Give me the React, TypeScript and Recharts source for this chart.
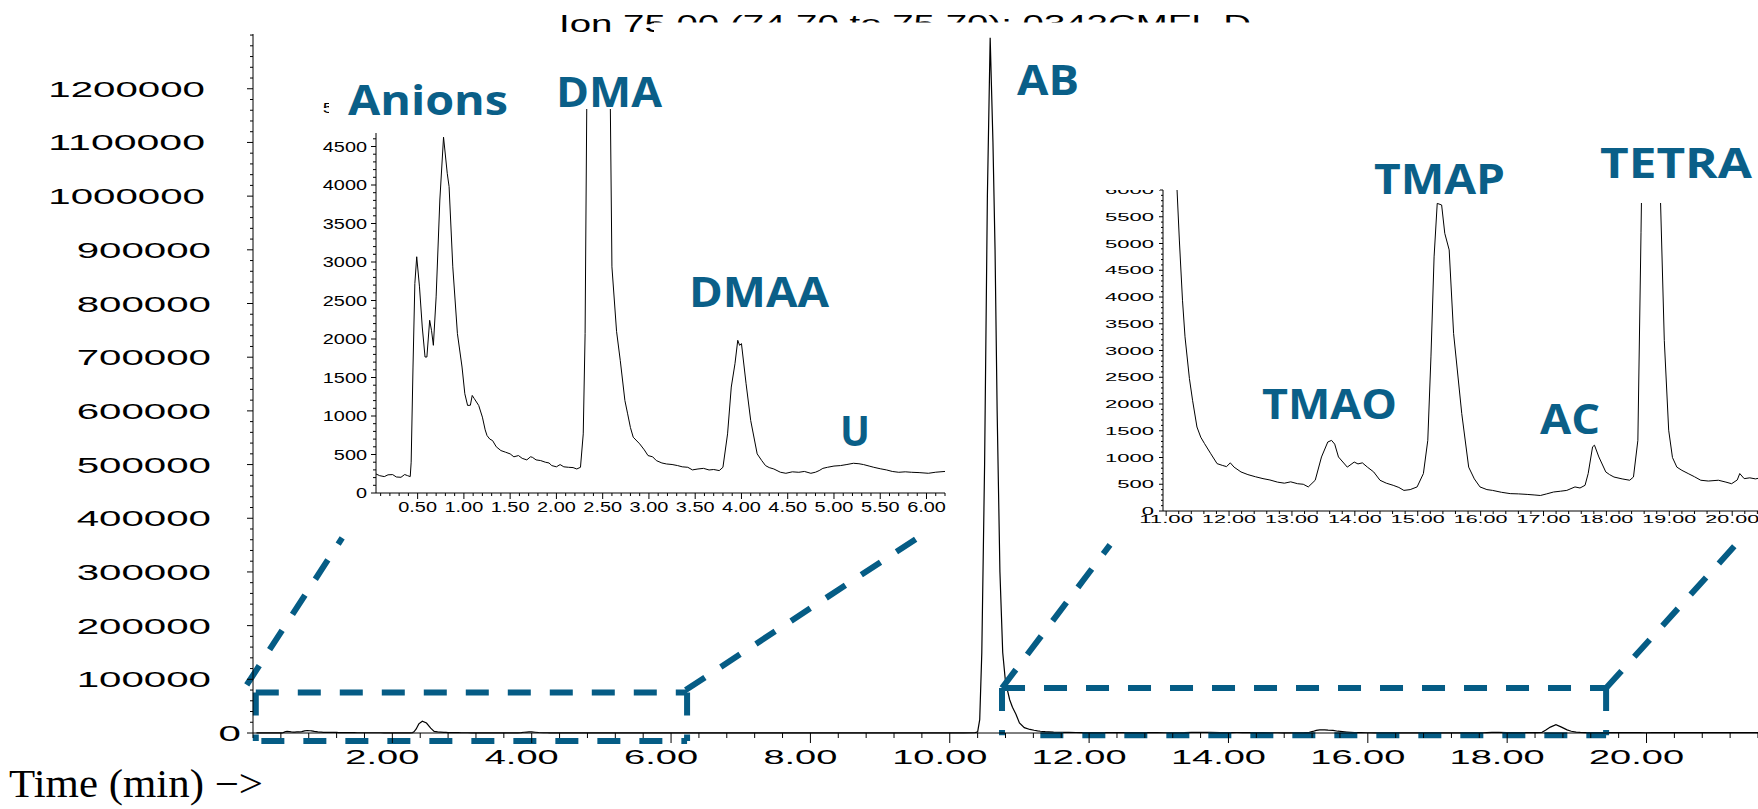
import { LineChart, Line, XAxis, YAxis, ReferenceLine } from 'recharts'

// [retention time (min), abundance]
const earlyTrace: [number, number][] = [
  [0.05, 247], [0.09, 225], [0.14, 213], [0.18, 236], [0.23, 239], [0.27, 208], [0.32, 204], [0.36, 240],
  [0.39, 226], [0.42, 213], [0.43, 400], [0.45, 1636], [0.47, 2720], [0.49, 3068], [0.52, 2677], [0.55, 2156],
  [0.58, 1766], [0.6, 1766], [0.63, 2243], [0.65, 2113], [0.67, 1918], [0.7, 2547], [0.74, 3805], [0.78, 4621],
  [0.82, 4152], [0.84, 3979], [0.88, 2937], [0.93, 2070], [0.98, 1636], [1.01, 1289], [1.04, 1137], [1.07, 1140],
  [1.09, 1267], [1.11, 1230], [1.16, 1137], [1.2, 985], [1.23, 820], [1.25, 746], [1.28, 700], [1.31, 681],
  [1.35, 600], [1.4, 551], [1.45, 530], [1.5, 508], [1.54, 470], [1.59, 486], [1.63, 450], [1.68, 430],
  [1.72, 470], [1.74, 464], [1.78, 430], [1.83, 421], [1.88, 400], [1.92, 390], [1.95, 356], [2.0, 340],
  [2.04, 369], [2.08, 340], [2.13, 334], [2.18, 330], [2.22, 312], [2.26, 334], [2.29, 768], [2.31, 2070],
  [2.34, 7000], [2.38, 17000], [2.43, 22000], [2.49, 18500], [2.55, 9000], [2.6, 2937], [2.65, 2100], [2.69, 1722],
  [2.74, 1202], [2.77, 1028], [2.8, 850], [2.83, 725], [2.9, 638], [2.95, 560], [2.99, 486], [3.04, 470],
  [3.08, 421], [3.14, 390], [3.19, 377], [3.25, 370], [3.31, 356], [3.36, 340], [3.42, 334], [3.47, 300],
  [3.53, 312], [3.59, 320], [3.65, 299], [3.7, 305], [3.76, 291], [3.8, 334], [3.85, 768], [3.89, 1376],
  [3.93, 1679], [3.96, 1983], [3.98, 1918], [4.0, 1940], [4.05, 1419], [4.1, 941], [4.17, 508], [4.22, 420],
  [4.26, 356], [4.3, 330], [4.35, 312], [4.42, 270], [4.48, 256], [4.55, 275], [4.62, 269], [4.68, 280],
  [4.75, 256], [4.8, 270], [4.84, 291], [4.88, 320], [4.93, 334], [5.0, 350], [5.07, 356], [5.14, 370],
  [5.21, 386], [5.27, 380], [5.32, 369], [5.38, 350], [5.43, 334], [5.5, 315], [5.57, 299], [5.63, 280],
  [5.7, 269], [5.77, 275], [5.84, 269], [5.92, 265], [6.02, 256], [6.1, 270], [6.22, 282],
]

const middleTrace: [number, number][] = [
  [6.3, 270], [6.8, 260], [7.4, 280], [8.0, 270], [8.6, 290], [9.2, 280], [9.8, 310], [10.2, 350],
  [10.36, 500], [10.4, 2000], [10.43, 25000], [10.46, 150000], [10.5, 500000], [10.54, 1000000],
  [10.58, 1295000], [10.62, 1100000], [10.65, 900000], [10.68, 600000], [10.72, 300000], [10.76, 150000],
  [10.8, 95000], [10.86, 62000], [10.9, 48000],
]

const lateTrace: [number, number][] = [
  [10.95, 35000], [11.0, 18600], [11.07, 10000], [11.15, 6600], [11.21, 5065], [11.26, 3940], [11.3, 3256],
  [11.37, 2476], [11.42, 2070], [11.49, 1570], [11.55, 1380], [11.61, 1260], [11.71, 1070], [11.81, 885],
  [11.9, 850], [11.96, 830], [12.02, 900], [12.08, 820], [12.19, 730], [12.3, 680], [12.42, 640], [12.54, 605],
  [12.65, 580], [12.77, 540], [12.88, 520], [12.98, 545], [13.09, 510], [13.18, 500], [13.26, 450], [13.37, 575],
  [13.47, 1010], [13.57, 1290], [13.63, 1320], [13.68, 1250], [13.74, 1010], [13.88, 820], [13.99, 915],
  [14.05, 880], [14.12, 900], [14.2, 820], [14.3, 730], [14.4, 575], [14.5, 520], [14.61, 480], [14.7, 440],
  [14.78, 385], [14.88, 400], [14.99, 450], [15.09, 700], [15.16, 1320], [15.21, 2880], [15.26, 4750],
  [15.31, 5750], [15.38, 5720], [15.43, 5190], [15.5, 4880], [15.57, 3320], [15.7, 1820], [15.81, 820],
  [15.9, 600], [15.99, 450], [16.1, 400], [16.19, 385], [16.33, 350], [16.47, 325], [16.6, 320], [16.74, 310],
  [16.85, 300], [16.95, 290], [17.05, 320], [17.16, 355], [17.27, 370], [17.37, 385], [17.5, 450], [17.58, 430],
  [17.66, 480], [17.71, 700], [17.78, 1200], [17.81, 1230], [17.88, 1010], [17.99, 730], [18.05, 680],
  [18.12, 635], [18.25, 600], [18.37, 575], [18.43, 635], [18.5, 1320], [18.55, 5200], [18.62, 11000],
  [18.7, 15500], [18.78, 11000], [18.86, 5800], [18.92, 3190], [18.99, 1510], [19.05, 1000], [19.12, 820],
  [19.2, 760], [19.3, 700], [19.4, 640], [19.5, 575], [19.62, 560], [19.78, 575], [19.9, 540], [19.99, 510],
  [20.08, 580], [20.12, 700], [20.19, 605], [20.28, 620], [20.37, 600], [20.41, 610],
]

const tailTrace: [number, number][] = [[20.6, 590], [21.0, 570], [21.6, 560]]

const mainTimeLabels = [2, 4, 6, 8, 10, 12, 14, 16, 18, 20]
const mainAbundanceLabels = [0, 100000, 200000, 300000, 400000, 500000, 600000, 700000, 800000, 900000, 1000000, 1100000, 1200000]
const earlyTimeLabels = [0.5, 1, 1.5, 2, 2.5, 3, 3.5, 4, 4.5, 5, 5.5, 6]
const earlyAbundanceLabels = [0, 500, 1000, 1500, 2000, 2500, 3000, 3500, 4000, 4500, 5000]
const lateTimeLabels = [11, 12, 13, 14, 15, 16, 17, 18, 19, 20]
const lateAbundanceLabels = [0, 500, 1000, 1500, 2000, 2500, 3000, 3500, 4000, 4500, 5000, 5500, 6000]

const peakNames = ['Anions', 'DMA', 'AB', 'DMAA', 'U', 'TMAO', 'TMAP', 'AC', 'TETRA']

const title = 'Ion 75.00 (74.70 to 75.70): 0342CMFL.D'

const W = 1758
const H = 809
const TEAL = '#055c85'
const LABEL = '#0a5f88'
const SANS = "'Liberation Sans', Arial, sans-serif"

const toRows = (trace: [number, number][]) => trace.map(([t, v]) => ({ t, v }))
const overviewData = toRows([...earlyTrace, ...middleTrace, ...lateTrace, ...tailTrace])
const earlyData = toRows(earlyTrace)
const lateData = toRows(lateTrace)

const steps = (from: number, to: number, step: number) => {
  const n = Math.round((to - from) / step)
  return Array.from({ length: n + 1 }, (_, i) => +(from + i * step).toFixed(3))
}

// width of a stretched Arial number string
const numWidth = (s: string, size: number, stretch: number) => {
  let em = 0
  for (const c of s) em += c === '.' ? 0.278 : 0.556
  return em * size * stretch
}

const isIn = (list: number[], v: number) => list.some(l => Math.abs(l - v) < 1e-6)

interface TickOpts {
  labels: number[]
  digits: number
  size: number
  stretch: number
  major: number
  minor: number
  baseline: number
  dx?: number
}

function bottomTick(o: TickOpts) {
  return (props: any) => {
    const { x, y, payload } = props
    const v = payload.value as number
    const major = isIn(o.labels, v)
    const text = v.toFixed(o.digits)
    const w = numWidth(text, o.size, o.stretch)
    return (
      <g>
        <line x1={x} x2={x} y1={y} y2={y + (major ? o.major : o.minor)} stroke="#000" strokeWidth={1} />
        {major && (
          <text x={x + (o.dx ?? 0) - w / 2} y={y + o.baseline} fontSize={o.size} fontFamily={SANS}
            textLength={w} lengthAdjust="spacingAndGlyphs" fill="#000">{text}</text>
        )}
      </g>
    )
  }
}

function leftTick(o: TickOpts & { gap: (label: string) => number }) {
  return (props: any) => {
    const { x, y, payload } = props
    const v = payload.value as number
    const major = isIn(o.labels, v)
    const text = String(v)
    const w = numWidth(text, o.size, o.stretch)
    return (
      <g>
        <line x1={x} x2={x - (major ? o.major : o.minor)} y1={y} y2={y} stroke="#000" strokeWidth={1} />
        {major && (
          <text x={x - o.gap(text) - w} y={y + o.baseline} fontSize={o.size} fontFamily={SANS}
            textLength={w} lengthAdjust="spacingAndGlyphs" fill="#000">{text}</text>
        )}
      </g>
    )
  }
}

const dashLeft = { stroke: TEAL, strokeWidth: 6, strokeDasharray: '23 19', ifOverflow: 'visible' as const }

const peakLayout: Record<string, { x: number; y: number; w: number }> = {
  Anions: { x: 348, y: 115, w: 160 },
  DMA: { x: 556, y: 107, w: 106 },
  AB: { x: 1017, y: 95, w: 62 },
  DMAA: { x: 689, y: 307, w: 140 },
  U: { x: 840, y: 446, w: 30 },
  TMAO: { x: 1262, y: 419, w: 135 },
  TMAP: { x: 1374, y: 194, w: 131 },
  AC: { x: 1540, y: 434, w: 60 },
  TETRA: { x: 1600, y: 178, w: 152 },
}

export default function App() {
  return (
    <div style={{ position: 'absolute', left: 0, top: 0, width: W, height: H, background: '#fff', overflow: 'hidden' }}>
      <svg width={W} height={H} style={{ position: 'absolute', left: 0, top: 0 }}>
        <text x={559} y={32} fontSize={24} fontFamily={SANS} textLength={692} lengthAdjust="spacingAndGlyphs">{title}</text>
        <rect x={654} y={22.5} width={620} height={20} fill="#fff" />
      </svg>

      <div style={{ position: 'absolute', left: 0, top: 0 }}>
        <LineChart width={W} height={H} data={overviewData} margin={{ top: 34, right: 0, bottom: 0, left: 0 }}>
          <XAxis dataKey="t" type="number" domain={[0, 21.6]} allowDataOverflow ticks={steps(0, 21.6, 0.4)}
            interval={0} height={76} tickSize={0} tickMargin={0} tickLine={false} axisLine={{ stroke: '#000' }}
            tick={bottomTick({ labels: mainTimeLabels, digits: 2, size: 20, stretch: 1.9, major: 10, minor: 5, baseline: 31, dx: -10 })} />
          <YAxis type="number" domain={[0, 1302000]} ticks={steps(0, 1300000, 20000)} interval={0} width={253}
            tickSize={0} tickMargin={0} tickLine={false} axisLine={{ stroke: '#000' }}
            tick={leftTick({ labels: mainAbundanceLabels, digits: 0, size: 22, stretch: 1.83, major: 6, minor: 3, baseline: 8,
              gap: s => (s.length === 1 ? 12 : s.length === 6 ? 42 : 48) })} />
          <Line dataKey="v" stroke="#000" strokeWidth={1.2} dot={false} isAnimationActive={false} />
          {/* zoom boxes and connectors */}
          <ReferenceLine segment={[{ x: 0.04, y: 75500 }, { x: 6.23, y: 75500 }]} {...dashLeft} />
          <ReferenceLine segment={[{ x: 0.12, y: -14900 }, { x: 6.23, y: -14900 }]} {...dashLeft} />
          <ReferenceLine segment={[{ x: 0.04, y: 75500 }, { x: 0.04, y: -14900 }]} {...dashLeft} />
          <ReferenceLine segment={[{ x: 6.23, y: 75500 }, { x: 6.23, y: -14900 }]} {...dashLeft} />
          <ReferenceLine segment={[{ x: -0.09, y: 89500 }, { x: 1.28, y: 363500 }]} {...dashLeft} />
          <ReferenceLine segment={[{ x: 6.21, y: 80100 }, { x: 9.54, y: 363500 }]} {...dashLeft} />
          <ReferenceLine segment={[{ x: 10.75, y: 83900 }, { x: 19.42, y: 83900 }]} {...dashLeft} />
          <ReferenceLine segment={[{ x: 11.3, y: -4000 }, { x: 19.42, y: -4000 }]} {...dashLeft} />
          <ReferenceLine segment={[{ x: 10.75, y: 83900 }, { x: 10.75, y: -4000 }]} {...dashLeft} />
          <ReferenceLine segment={[{ x: 19.42, y: 83900 }, { x: 19.42, y: -4000 }]} {...dashLeft} />
          <ReferenceLine segment={[{ x: 10.75, y: 83900 }, { x: 12.3, y: 350400 }]} {...dashLeft} />
          <ReferenceLine segment={[{ x: 19.42, y: 83900 }, { x: 21.37, y: 363500 }]} {...dashLeft} />
        </LineChart>
      </div>

      <div style={{ position: 'absolute', left: 300, top: 95, width: 650, height: 427, background: '#fff' }}>
        <LineChart width={650} height={427} data={earlyData} margin={{ top: 13, right: 5, bottom: 0, left: 0 }}>
          <XAxis dataKey="t" type="number" domain={[0.05, 6.2]} allowDataOverflow ticks={steps(0.1, 6.2, 0.1)}
            interval={0} height={29} tickSize={0} tickMargin={0} tickLine={false} axisLine={{ stroke: '#000' }}
            tick={bottomTick({ labels: earlyTimeLabels, digits: 2, size: 14, stretch: 1.42, major: 6, minor: 3, baseline: 19 })} />
          <YAxis type="number" domain={[0, 5000]} allowDataOverflow ticks={steps(0, 5000, 100)} interval={0} width={76}
            tickSize={0} tickMargin={0} tickLine={false} axisLine={{ stroke: '#000' }}
            tick={leftTick({ labels: earlyAbundanceLabels, digits: 0, size: 14, stretch: 1.42, major: 5, minor: 3, baseline: 5, gap: () => 9 })} />
          <Line dataKey="v" stroke="#000" strokeWidth={1} dot={false} isAnimationActive={false} />
        </LineChart>
      </div>

      <div style={{ position: 'absolute', left: 1100, top: 150, width: 658, height: 380, background: '#fff' }}>
        <LineChart width={658} height={380} data={lateData} margin={{ top: 40, right: 0, bottom: 0, left: 0 }}>
          <XAxis dataKey="t" type="number" domain={[10.95, 20.41]} allowDataOverflow ticks={steps(11, 20.4, 0.2)}
            interval={0} height={19} tickSize={0} tickMargin={0} tickLine={false} axisLine={{ stroke: '#000' }}
            tick={bottomTick({ labels: lateTimeLabels, digits: 2, size: 10.5, stretch: 2.05, major: 5, minor: 3, baseline: 12 })} />
          <YAxis type="number" domain={[0, 6000]} allowDataOverflow ticks={steps(0, 6000, 100)} interval={0} width={63}
            tickSize={0} tickMargin={0} tickLine={false} axisLine={{ stroke: '#000' }}
            tick={leftTick({ labels: lateAbundanceLabels, digits: 0, size: 10.5, stretch: 2.1, major: 4, minor: 2, baseline: 4, gap: () => 9 })} />
          <Line dataKey="v" stroke="#000" strokeWidth={1} dot={false} isAnimationActive={false} />
        </LineChart>
      </div>

      <svg width={W} height={H} style={{ position: 'absolute', left: 0, top: 0, pointerEvents: 'none' }}>
        <rect x={329} y={60} width={190} height={73} fill="#fff" />
        <rect x={548} y={60} width={122} height={49} fill="#fff" />
        <rect x={1596} y={140} width={162} height={63} fill="#fff" />
        <rect x={1100} y={150} width={60} height={40} fill="#fff" />
        {peakNames.map(name => {
          const p = peakLayout[name]
          return (
            <text key={name} x={p.x} y={p.y} fontSize={42} fontWeight={700} fontFamily="'Open Sans', 'Noto Sans', sans-serif"
              fill={LABEL} textLength={p.w} lengthAdjust="spacingAndGlyphs">{name}</text>
          )
        })}
        <text x={9} y={797} fontSize={40} fontFamily="'Liberation Serif', 'Times New Roman', serif"
          textLength={254} lengthAdjust="spacingAndGlyphs">Time (min) −&gt;</text>
      </svg>
    </div>
  )
}
